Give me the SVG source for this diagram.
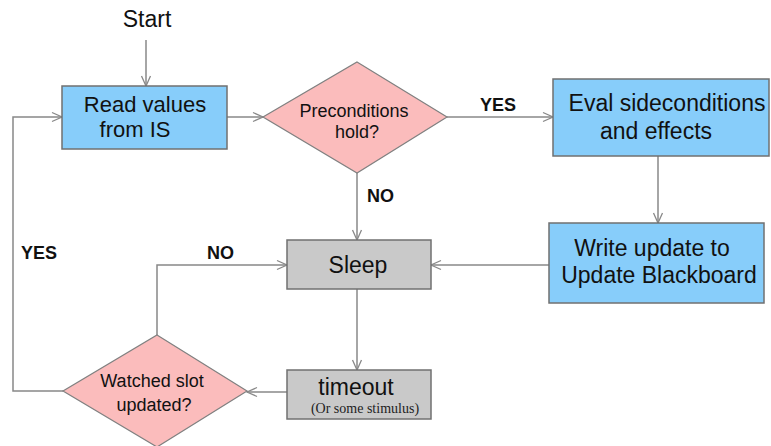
<svg xmlns="http://www.w3.org/2000/svg" width="771" height="446" viewBox="0 0 771 446">
<style>
.bg{fill:#ffffff}
.blue{fill:#87cdfa;stroke:#707070;stroke-width:1.5}
.gray{fill:#c9c9c9;stroke:#707070;stroke-width:1.5}
.pink{fill:#fbbcbc;stroke:#808080;stroke-width:1.2}
.t{font-family:"Liberation Sans",Arial,sans-serif;fill:#111;text-anchor:middle}
.big{font-size:23px}
.rd{font-size:22px}
.mid{font-size:18px}
.lbl{font-family:"Liberation Sans",Arial,sans-serif;font-size:18px;font-weight:bold;fill:#111}
.small{font-family:"Liberation Serif","Times New Roman",serif;font-size:14px;fill:#222;text-anchor:middle}
.c{fill:none;stroke:#888;stroke-width:1.5}
</style>
<defs>
<marker id="arr" markerWidth="12" markerHeight="12" refX="11" refY="6" orient="auto" markerUnits="userSpaceOnUse">
<path d="M1,1.5 L11,6 L1,10.5" fill="none" stroke="#888" stroke-width="1.3"/>
</marker>
</defs>
<rect class="bg" x="0" y="0" width="771" height="446"/>
<g id="connectors">
<line class="c" x1="146" y1="40" x2="146" y2="86" marker-end="url(#arr)"/>
<line class="c" x1="227" y1="117" x2="263" y2="117" marker-end="url(#arr)"/>
<line class="c" x1="447" y1="117" x2="553" y2="117" marker-end="url(#arr)"/>
<line class="c" x1="357" y1="173" x2="357" y2="240" marker-end="url(#arr)"/>
<line class="c" x1="658" y1="156" x2="658" y2="223" marker-end="url(#arr)"/>
<line class="c" x1="549" y1="265" x2="431" y2="265" marker-end="url(#arr)"/>
<line class="c" x1="357" y1="289" x2="357" y2="370" marker-end="url(#arr)"/>
<line class="c" x1="287" y1="392" x2="247" y2="392" marker-end="url(#arr)"/>
<polyline class="c" points="157,335 157,265 287,265" marker-end="url(#arr)"/>
<polyline class="c" points="63,391 13,391 13,117 62,117" marker-end="url(#arr)"/>
<text class="lbl" x="480" y="111">YES</text>
<text class="lbl" x="367" y="202">NO</text>
<text class="lbl" x="21" y="259">YES</text>
<text class="lbl" x="207" y="259">NO</text>
</g>
<g id="start">
<text class="t big" x="147" y="27">Start</text>
</g>
<g id="read">
<rect class="blue" x="62" y="86" width="165" height="63"/>
<text class="t rd" x="145" y="112">Read values</text>
<text class="t rd" x="135" y="137">from IS</text>
</g>
<g id="precond">
<polygon class="pink" points="357,62 447,117 357,173 263,117"/>
<text class="t mid" x="354" y="117">Preconditions</text>
<text class="t mid" x="357" y="138">hold?</text>
</g>
<g id="eval">
<rect class="blue" x="553" y="79" width="216" height="77"/>
<text class="t big" x="667" y="111">Eval sideconditions</text>
<text class="t big" x="656" y="139">and effects</text>
</g>
<g id="write">
<rect class="blue" x="549" y="223" width="215" height="80"/>
<text class="t big" x="652" y="256">Write update to</text>
<text class="t big" x="659" y="283">Update Blackboard</text>
</g>
<g id="sleep">
<rect class="gray" x="287" y="240" width="144" height="49"/>
<text class="t big" x="358" y="273">Sleep</text>
</g>
<g id="timeout">
<rect class="gray" x="287" y="370" width="144" height="49"/>
<text class="t big" x="356" y="395">timeout</text>
<text class="small" x="365" y="413">(Or some stimulus)</text>
</g>
<g id="watched">
<polygon class="pink" points="157,335 247,391 157,447 63,391"/>
<text class="t mid" x="152" y="387">Watched slot</text>
<text class="t mid" x="154" y="411">updated?</text>
</g>
</svg>
